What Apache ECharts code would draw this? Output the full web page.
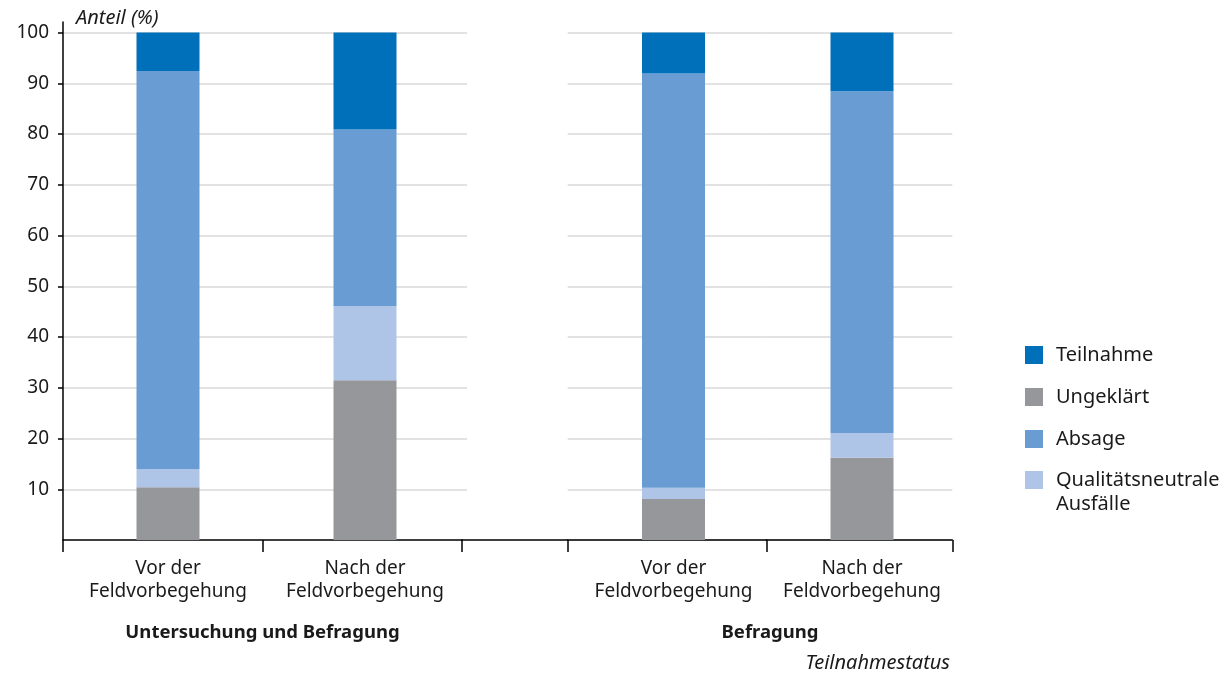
<!DOCTYPE html>
<html><head><meta charset="utf-8">
<script src="https://cdn.jsdelivr.net/npm/echarts@6/dist/echarts.min.js"></script>
<style>html,body{margin:0;padding:0;background:#fff}#c{width:1221px;height:673px}</style>
</head><body><div id="c"></div>
<script>
const categories = ['Vor der\nFeldvorbegehung', 'Nach der\nFeldvorbegehung'];
const groups = ['Untersuchung und Befragung', 'Befragung'];
const seriesNames = ['Ungeklärt', 'Qualitätsneutrale\nAusfälle', 'Absage', 'Teilnahme'];
// group 1: Untersuchung und Befragung  [Vor, Nach]
const g1Ungeklaert = [10.4, 31.5];
const g1Qualitaet = [3.6, 14.6];
const g1Absage = [78.4, 34.8];
const g1Teilnahme = [7.6, 19.1];
// group 2: Befragung  [Vor, Nach]
const g2Ungeklaert = [8.1, 16.2];
const g2Qualitaet = [2.2, 4.9];
const g2Absage = [81.6, 67.3];
const g2Teilnahme = [8.1, 11.6];
const yTickMin = 10, yTickMax = 100, yStep = 10;
const colors = {'Ungeklärt':'#96979B','Qualitätsneutrale\nAusfälle':'#AFC5E7','Absage':'#699CD3','Teilnahme':'#0070BA'};

(function(){
const FONT = 'Noto Sans';
const TXT = '#1a1a1a';
const chart = echarts.init(document.getElementById('c'));
const gTop = 32.5, gBottom = 133;
const plotH = 673 - gTop - gBottom;
const lineStyle = {color:'#000', width:1.5};
const splitLine = {show:true, lineStyle:{color:'#d9d9d9', width:1.5}};
const G = (left, width, extra) => Object.assign({left, width, top:gTop, bottom:gBottom, outerBoundsMode:'none', containLabel:false}, extra || {});

const grids = [
  G(63, 399),        // 0 panel 1 x axis
  G(462, 105.7),     // 1 gap x axis
  G(567.7, 198.6),   // 2 panel 2 first slot
  G(766.3, 186),     // 3 panel 2 second slot
  G(68, 200),        // 4 bar: g1 Vor
  G(265, 200),       // 5 bar: g1 Nach
  G(573.5, 200),     // 6 bar: g2 Vor
  G(762, 200),       // 7 bar: g2 Nach
  G(570, 400),       // 8 group label Befragung
  G(63, 10, {top:22}),// 9 y axis line
  G(63, 404, {bottom: gBottom + plotH * yTickMin / yTickMax}) // 10 y labels / ticks / grid lines panel 1
];

const tickAxis = (gi, n) => ({
  type:'category', gridIndex:gi, data:new Array(n).fill(''), boundaryGap:true,
  axisLine:{show:true, lineStyle}, axisTick:{show:true, length:12, lineStyle},
  axisLabel:{show:false}
});
const labelAxis = (gi, label) => ({
  type:'category', gridIndex:gi, data:[label], boundaryGap:true,
  axisLine:{show:false}, axisTick:{show:false},
  axisLabel:{show:true, interval:0, margin:17, fontFamily:FONT, fontSize:19, lineHeight:23, color:TXT}
});
const groupAxis = (gi, name) => ({
  type:'category', gridIndex:gi, data:[name], position:'bottom',
  axisLine:{show:false}, axisTick:{show:false},
  axisLabel:{show:true, margin:83, fontFamily:FONT, fontSize:18.5, fontWeight:'bold', color:TXT}
});
const hiddenX = (gi) => ({type:'category', gridIndex:gi, data:[''], show:false});
const hiddenY = (gi) => ({type:'value', gridIndex:gi, min:0, max:100, interval:10, show:false, splitLine:{show:false}});
const splitY = (gi) => ({type:'value', gridIndex:gi, min:0, max:100, interval:10,
  axisLine:{show:false}, axisTick:{show:false}, axisLabel:{show:false}, splitLine});

const bars = [
  {grid:4, vals:{'Ungeklärt':g1Ungeklaert[0], 'Qualitätsneutrale\nAusfälle':g1Qualitaet[0], 'Absage':g1Absage[0], 'Teilnahme':g1Teilnahme[0]}},
  {grid:5, vals:{'Ungeklärt':g1Ungeklaert[1], 'Qualitätsneutrale\nAusfälle':g1Qualitaet[1], 'Absage':g1Absage[1], 'Teilnahme':g1Teilnahme[1]}},
  {grid:6, vals:{'Ungeklärt':g2Ungeklaert[0], 'Qualitätsneutrale\nAusfälle':g2Qualitaet[0], 'Absage':g2Absage[0], 'Teilnahme':g2Teilnahme[0]}},
  {grid:7, vals:{'Ungeklärt':g2Ungeklaert[1], 'Qualitätsneutrale\nAusfälle':g2Qualitaet[1], 'Absage':g2Absage[1], 'Teilnahme':g2Teilnahme[1]}}
];
const series = [];
bars.forEach(b => {
  seriesNames.forEach(name => {
    series.push({type:'bar', name, stack:'s'+b.grid, xAxisIndex:b.grid, yAxisIndex:b.grid,
      data:[b.vals[name]], barWidth:63, itemStyle:{color:colors[name]}, emphasis:{disabled:true}});
  });
});

const legendText = {fontFamily:FONT, fontSize:20, color:TXT, lineHeight:24, padding:[0,0,0,8]};

chart.setOption({
  animation:false,
  textStyle:{fontFamily:FONT},
  grid:grids,
  xAxis:[
    tickAxis(0, 2), tickAxis(1, 1), tickAxis(2, 1), tickAxis(3, 1),
    labelAxis(4, categories[0]), labelAxis(5, categories[1]),
    labelAxis(6, categories[0]), labelAxis(7, categories[1]),
    groupAxis(0, groups[0]), groupAxis(8, groups[1]),
    hiddenX(9), hiddenX(10)
  ],
  yAxis:[
    hiddenY(0), hiddenY(1), splitY(2), splitY(3),
    hiddenY(4), hiddenY(5), hiddenY(6), hiddenY(7), hiddenY(8),
    {type:'value', gridIndex:9, min:0, max:1, axisLine:{show:true, lineStyle}, axisTick:{show:false}, axisLabel:{show:false}, splitLine:{show:false}},
    {type:'value', gridIndex:10, min:yTickMin, max:yTickMax, interval:yStep,
      axisLine:{show:false}, axisTick:{show:true, length:5, lineStyle},
      axisLabel:{margin:14, fontFamily:FONT, fontSize:19, color:TXT},
      splitLine,
      name:'Anteil (%)', nameLocation:'end', nameGap:4,
      nameTextStyle:{fontFamily:FONT, fontSize:20, fontStyle:'italic', color:TXT, align:'left', padding:[0,0,0,13]}}
  ],
  legend:[
    {orient:'vertical', left:1025, top:343, padding:0, itemWidth:18, itemHeight:18, itemGap:18, icon:'rect',
      data:['Teilnahme', 'Ungeklärt', 'Absage'], textStyle:legendText, selectedMode:false},
    {orient:'vertical', left:1025, top:444, padding:0, itemWidth:18, itemHeight:18, icon:'rect',
      data:['Qualitätsneutrale\nAusfälle'], formatter:n => '\n' + n, textStyle:legendText, selectedMode:false}
  ],
  title:{
    text:'Teilnahmestatus', right:271, top:653, padding:0,
    textStyle:{fontFamily:FONT, fontSize:20, fontStyle:'italic', fontWeight:'normal', color:TXT}
  },
  series
});
})();
</script></body></html>
